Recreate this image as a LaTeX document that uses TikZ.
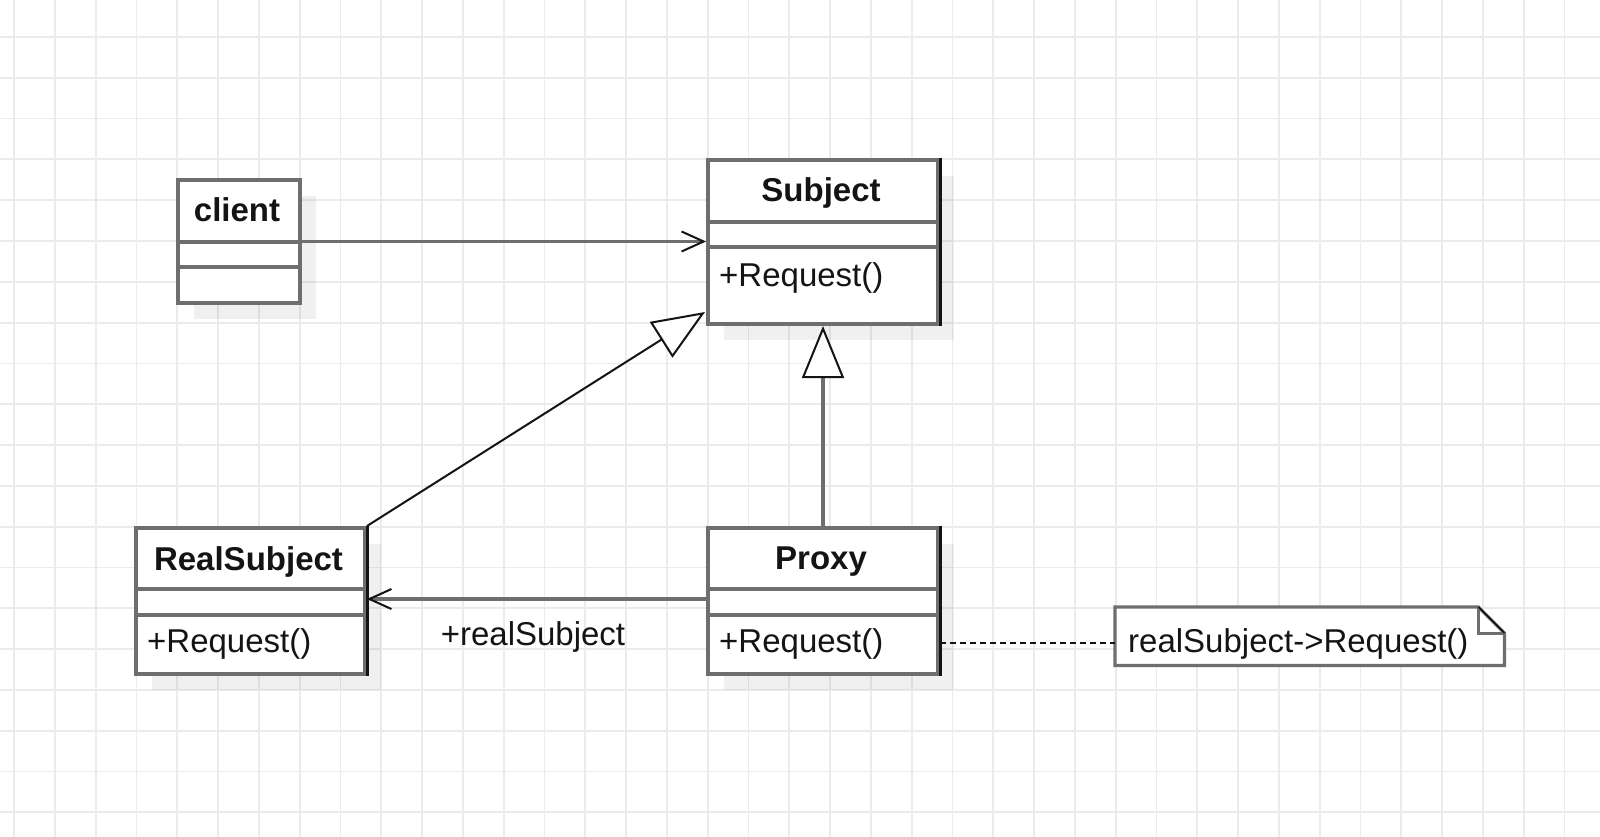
\documentclass[tikz,border=0pt]{standalone}
\usepackage{fontspec}
\setmainfont{Liberation Sans}
\usetikzlibrary{arrows.meta,calc,shadows}

\definecolor{gridgray}{HTML}{EBEBEB}
\definecolor{boxgray}{HTML}{6E6E6E}
\definecolor{inkdark}{HTML}{141414}

\tikzset{
  gridline/.style={draw=gridgray, line width=1.8pt},
  classbox/.style={draw=boxgray, line width=4pt, fill=white, anchor=north west, inner sep=0pt,
    general shadow={fill=black, opacity=0.06, shadow xshift=16pt, shadow yshift=-16pt}},
  sepline/.style={draw=boxgray, line width=4pt},
  darkedge/.style={draw=inkdark, line width=3pt},
  title/.style={font=\fontsize{33}{38}\selectfont\bfseries, text=inkdark, anchor=base, inner sep=0pt},
  member/.style={font=\fontsize{33}{38}\selectfont, text=inkdark, anchor=base west, inner sep=0pt},
  assoc/.style={draw=boxgray, line width=3.2pt,
    -{Straight Barb[length=22pt,width=20pt,line width=2pt,color=inkdark]}},
  realize/.style={line width=2pt,
    -{Triangle[color=inkdark,fill=white,length=52pt,width=42pt,line width=2pt]}},
  notebox/.style={draw=boxgray, line width=3.2pt, fill=white, line join=miter},
  notelink/.style={draw=inkdark, line width=1.6pt, dash pattern=on 6pt off 4pt},
}

\begin{document}
\begin{tikzpicture}[x=1pt,y=-1pt]
  \useasboundingbox (0,0) rectangle (1600,837);
  \fill[white] (0,0) rectangle (1600,837);

  % background grid
  \foreach \i in {0,...,38}
    \draw[gridline] ({14+40.8*\i},0) -- ({14+40.8*\i},837);
  \foreach \j in {0,...,19}
    \draw[gridline] (0,{37+40.8*\j}) -- (1600,{37+40.8*\j});

  % class: client
  \node[classbox, minimum width=122pt, minimum height=123pt] (client) at (176,178) {};
  \draw[sepline] ($(client.north west)+(0,64)$) -- ($(client.north east)+(0,64)$);
  \draw[sepline] ($(client.north west)+(0,89)$) -- ($(client.north east)+(0,89)$);
  \node[title] (clientname) at (237,222) {client};

  % class: Subject
  \node[classbox, minimum width=230pt, minimum height=164pt] (Subject) at (706,158) {};
  \draw[sepline] ($(Subject.north west)+(0,64)$) -- ($(Subject.north east)+(0,64)$);
  \draw[sepline] ($(Subject.north west)+(0,89)$) -- ($(Subject.north east)+(0,89)$);
  \draw[darkedge] (Subject.north east) -- (Subject.south east);
  \node[title] (subjectname) at (821,202) {Subject};
  \node[member] (subjectop) at (719,286) {+Request()};

  % class: RealSubject
  \node[classbox, minimum width=229pt, minimum height=146pt] (RealSubject) at (134,526) {};
  \draw[sepline] ($(RealSubject.north west)+(0,63)$) -- ($(RealSubject.north east)+(0,63)$);
  \draw[sepline] ($(RealSubject.north west)+(0,89)$) -- ($(RealSubject.north east)+(0,89)$);
  \draw[darkedge] (RealSubject.north east) -- (RealSubject.south east);
  \node[title] (realname) at (248.5,570) {RealSubject};
  \node[member] (realop) at (147,652) {+Request()};

  % class: Proxy
  \node[classbox, minimum width=230pt, minimum height=146pt] (Proxy) at (706,526) {};
  \draw[sepline] ($(Proxy.north west)+(0,63)$) -- ($(Proxy.north east)+(0,63)$);
  \draw[sepline] ($(Proxy.north west)+(0,89)$) -- ($(Proxy.north east)+(0,89)$);
  \draw[darkedge] (Proxy.north east) -- (Proxy.south east);
  \node[title] (proxyname) at (821,569) {Proxy};
  \node[member] (proxyop) at (719,652) {+Request()};

  % note with folded corner
  \node[anchor=north west, minimum width=389pt, minimum height=58pt, inner sep=0pt] (note) at (1115,607) {};
  \draw[notebox] (note.north west) -- ($(note.north east)+(-26,0)$) -- ($(note.north east)+(0,26)$)
    -- (note.south east) -- (note.south west) -- cycle;
  \draw[draw=boxgray, line width=3pt] ($(note.north east)+(-26,0)$) -- ($(note.north east)+(-26,26)$)
    -- ($(note.north east)+(0,26)$);
  \draw[draw=inkdark, line width=1.6pt] ($(note.north east)+(-26,0)$) -- ($(note.north east)+(0,26)$);
  \node[member] (notetext) at (1128,652) {realSubject->Request()};

  % connectors
  \draw[assoc] (client.east) -- (client.east -| Subject.west);
  \draw[realize, draw=inkdark] (RealSubject.north east) -- ($(Subject.south west)+(-1,-14)$);
  \draw[realize, draw=boxgray, line width=3.8pt] (Proxy.north) -- (Subject.south);
  \draw[assoc] ($(Proxy.west)+(0,-2)$) -- ($(Proxy.west -| RealSubject.east)+(0,-2)$);
  \node[member, anchor=base] (rolelabel) at (533,645) {+realSubject};
  \draw[notelink] (Proxy.east |- 0,643) -- (note.west |- 0,643);
\end{tikzpicture}
\end{document}
